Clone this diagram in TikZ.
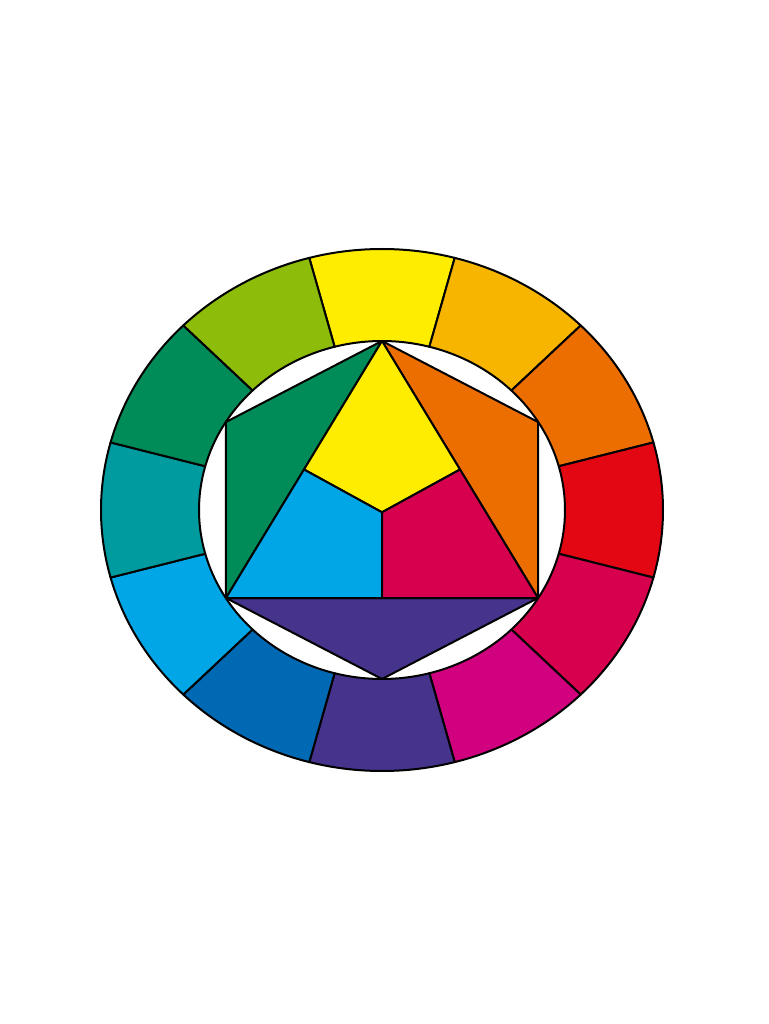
\documentclass[tikz,border=0pt]{standalone}
\usepackage{tikz}
\usetikzlibrary{positioning,calc}

\definecolor{cwYellow}{HTML}{FFED00}
\definecolor{cwYelOrange}{HTML}{F8B500}
\definecolor{cwOrange}{HTML}{EC6E00}
\definecolor{cwRed}{HTML}{E30613}
\definecolor{cwCrimson}{HTML}{D6004F}
\definecolor{cwMagenta}{HTML}{D0007F}
\definecolor{cwViolet}{HTML}{46338C}
\definecolor{cwBlue}{HTML}{0069B4}
\definecolor{cwCyan}{HTML}{00A6E6}
\definecolor{cwTeal}{HTML}{009B9F}
\definecolor{cwGreen}{HTML}{008C59}
\definecolor{cwYelGreen}{HTML}{8DBC0A}

\tikzset{
  piece/.style={draw=black, line width=2pt, line join=round},
}

\begin{document}
\begin{tikzpicture}[x=1pt,y=1pt]

  \fill[white] (-382,-514) rectangle (386,510);
  \useasboundingbox (-382,-514) rectangle (386,510);

  % outer ring, twelve parts
  \foreach \a/\c in {90/cwYellow, 60/cwYelOrange, 30/cwOrange, 0/cwRed,
                     -30/cwCrimson, -60/cwMagenta, -90/cwViolet, -120/cwBlue,
                     -150/cwCyan, 180/cwTeal, 150/cwGreen, 120/cwYelGreen}
  {
    \filldraw[piece, fill=\c] (\a-15:281 and 261)
      arc[start angle=\a-15, end angle=\a+15, x radius=281, y radius=261]
      -- (\a+15:183 and 169)
      arc[start angle=\a+15, end angle=\a-15, x radius=183, y radius=169]
      -- cycle;
  }

  % hexagon corners
  \coordinate (T) at (0,169);
  \coordinate (UL) at (-156,88);
  \coordinate (L) at (-156,-88);
  \coordinate (B) at (0,-169);
  \coordinate (R) at (156,-88);
  \coordinate (UR) at (156,88);

  % triangle split
  \coordinate (ML) at ($(T)!0.5!(L)$);
  \coordinate (MR) at ($(T)!0.5!(R)$);
  \coordinate (MB) at ($(L)!0.5!(R)$);
  \coordinate (C) at (0,-2.3);

  \filldraw[piece, fill=cwGreen] (T) -- (UL) -- (L) -- cycle;
  \filldraw[piece, fill=cwOrange] (T) -- (UR) -- (R) -- cycle;
  \filldraw[piece, fill=cwViolet] (L) -- (B) -- (R) -- cycle;

  \filldraw[piece, fill=cwYellow] (T) -- (ML) -- (C) -- (MR) -- cycle;
  \filldraw[piece, fill=cwCyan] (ML) -- (L) -- (MB) -- (C) -- cycle;
  \filldraw[piece, fill=cwCrimson] (C) -- (MB) -- (R) -- (MR) -- cycle;

\end{tikzpicture}
\end{document}
